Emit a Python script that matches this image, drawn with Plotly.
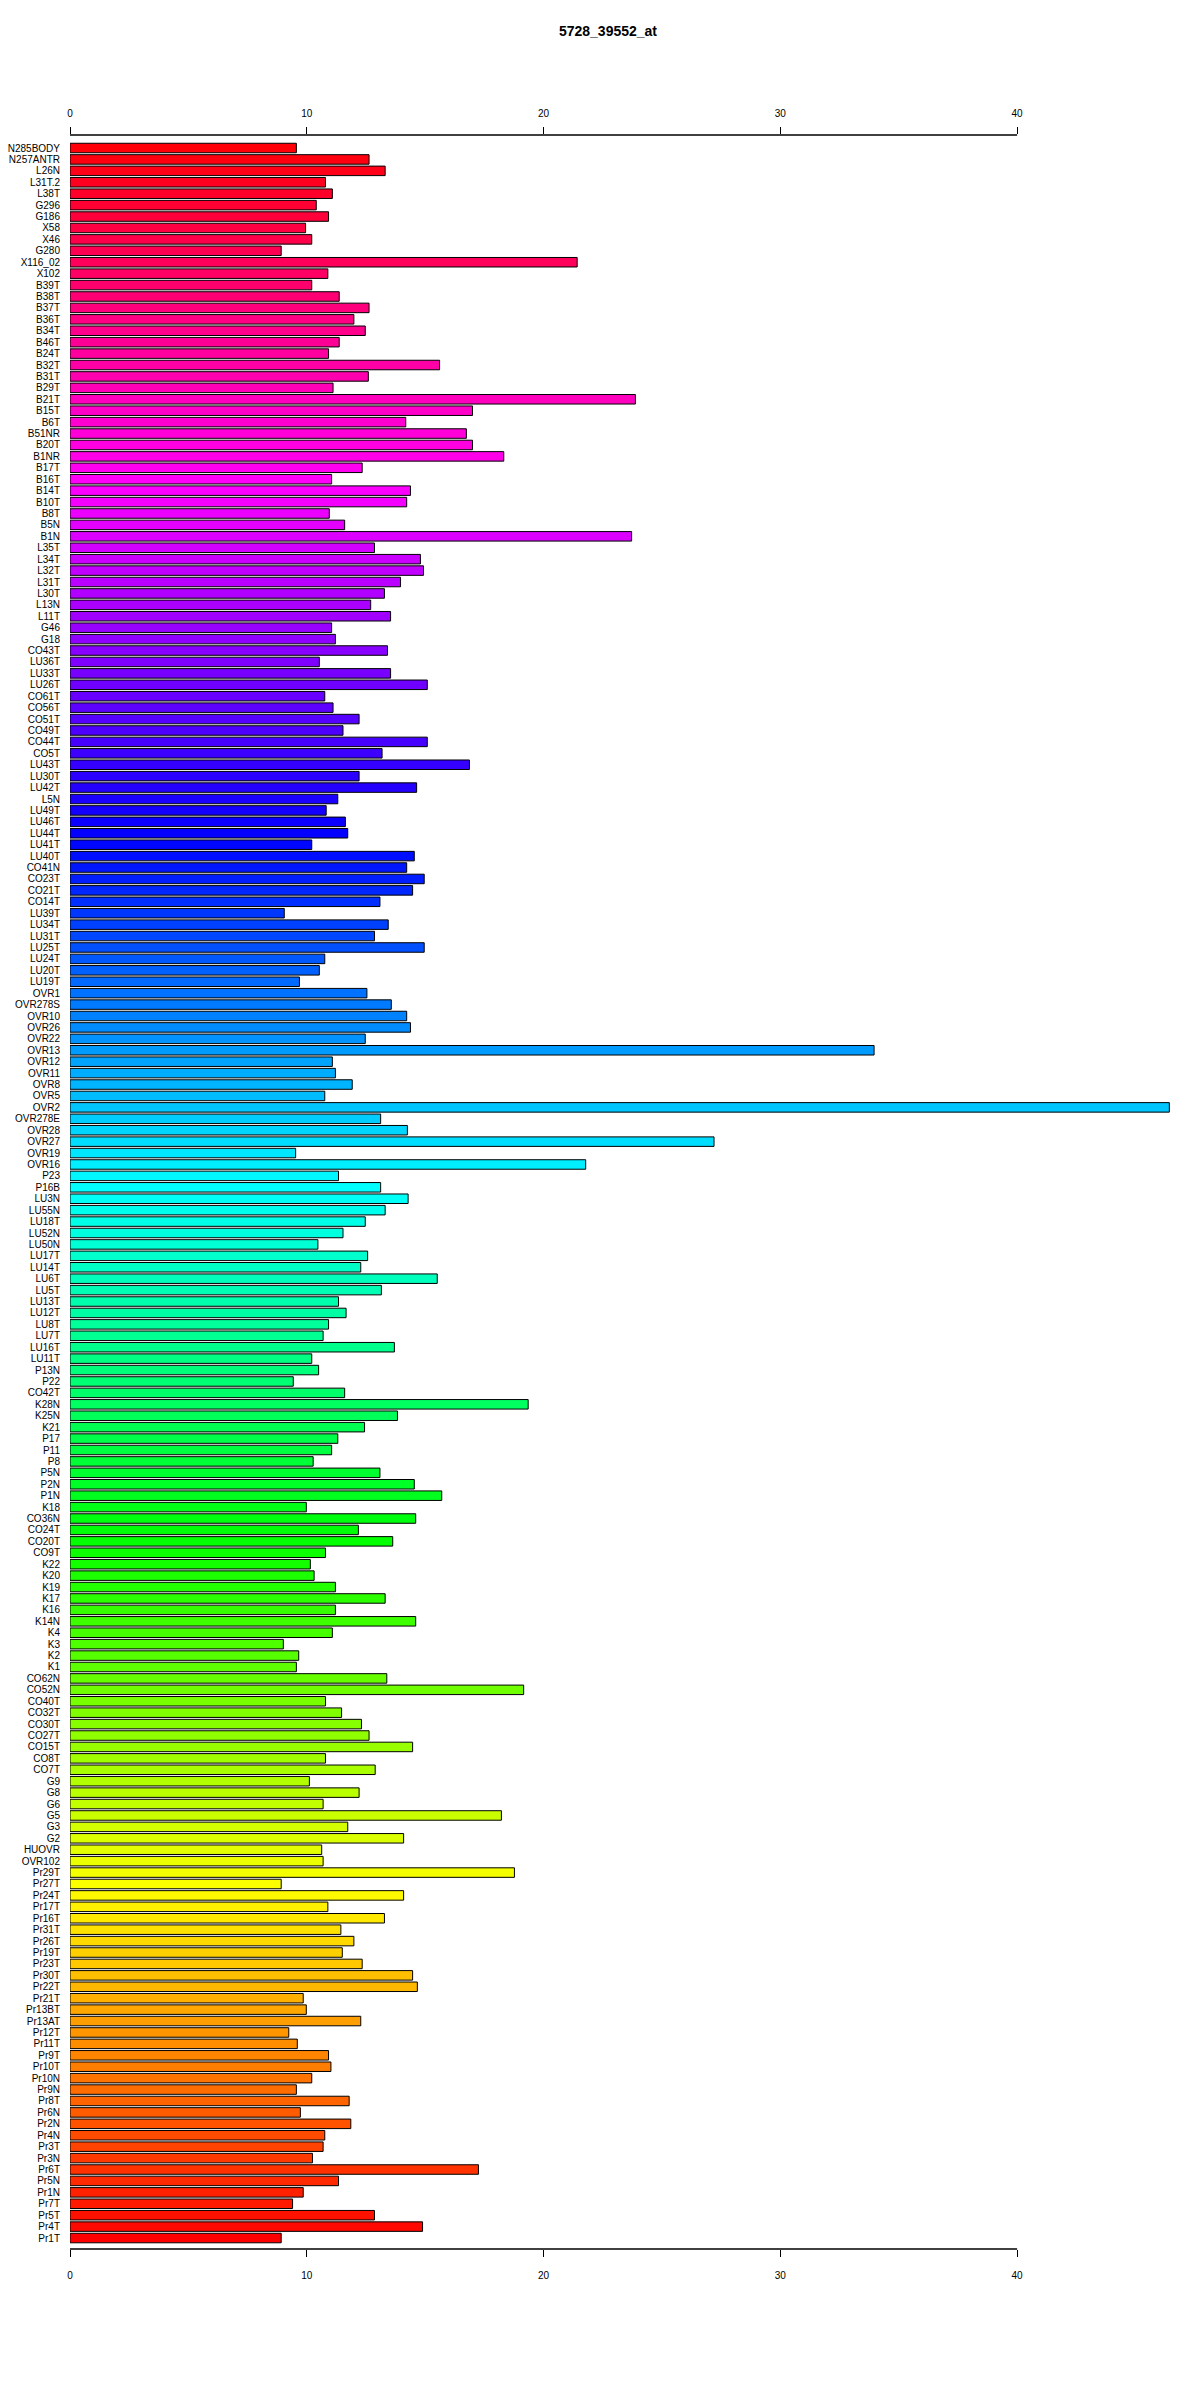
import colorsys
import plotly.graph_objects as go

title = "5728_39552_at"

labels = [
    "N285BODY", "N257ANTR", "L26N", "L31T.2", "L38T", "G296", "G186", "X58", "X46", "G280",
    "X116_02", "X102", "B39T", "B38T", "B37T", "B36T", "B34T", "B46T", "B24T", "B32T",
    "B31T", "B29T", "B21T", "B15T", "B6T", "B51NR", "B20T", "B1NR", "B17T", "B16T",
    "B14T", "B10T", "B8T", "B5N", "B1N", "L35T", "L34T", "L32T", "L31T", "L30T",
    "L13N", "L11T", "G46", "G18", "CO43T", "LU36T", "LU33T", "LU26T", "CO61T", "CO56T",
    "CO51T", "CO49T", "CO44T", "CO5T", "LU43T", "LU30T", "LU42T", "L5N", "LU49T", "LU46T",
    "LU44T", "LU41T", "LU40T", "CO41N", "CO23T", "CO21T", "CO14T", "LU39T", "LU34T", "LU31T",
    "LU25T", "LU24T", "LU20T", "LU19T", "OVR1", "OVR278S", "OVR10", "OVR26", "OVR22", "OVR13",
    "OVR12", "OVR11", "OVR8", "OVR5", "OVR2", "OVR278E", "OVR28", "OVR27", "OVR19", "OVR16",
    "P23", "P16B", "LU3N", "LU55N", "LU18T", "LU52N", "LU50N", "LU17T", "LU14T", "LU6T",
    "LU5T", "LU13T", "LU12T", "LU8T", "LU7T", "LU16T", "LU11T", "P13N", "P22", "CO42T",
    "K28N", "K25N", "K21", "P17", "P11", "P8", "P5N", "P2N", "P1N", "K18",
    "CO36N", "CO24T", "CO20T", "CO9T", "K22", "K20", "K19", "K17", "K16", "K14N",
    "K4", "K3", "K2", "K1", "CO62N", "CO52N", "CO40T", "CO32T", "CO30T", "CO27T",
    "CO15T", "CO8T", "CO7T", "G9", "G8", "G6", "G5", "G3", "G2", "HUOVR",
    "OVR102", "Pr29T", "Pr27T", "Pr24T", "Pr17T", "Pr16T", "Pr31T", "Pr26T", "Pr19T", "Pr23T",
    "Pr30T", "Pr22T", "Pr21T", "Pr13BT", "Pr13AT", "Pr12T", "Pr11T", "Pr9T", "Pr10T", "Pr10N",
    "Pr9N", "Pr8T", "Pr6N", "Pr2N", "Pr4N", "Pr3T", "Pr3N", "Pr6T", "Pr5N", "Pr1N",
    "Pr7T", "Pr5T", "Pr4T", "Pr1T",
]

values = [
    9.56, 12.63, 13.31, 10.79, 11.08, 10.40, 10.92, 9.95, 10.21, 8.92,
    21.42, 10.89, 10.21, 11.37, 12.63, 11.99, 12.47, 11.37, 10.92, 15.61,
    12.60, 11.11, 23.88, 17.00, 14.18, 16.74, 17.00, 18.32, 12.34, 11.05,
    14.38, 14.22, 10.95, 11.60, 23.72, 12.86, 14.80, 14.93, 13.96, 13.28,
    12.70, 13.54, 11.05, 11.21, 13.41, 10.53, 13.54, 15.09, 10.76, 11.11,
    12.21, 11.53, 15.09, 13.18, 16.87, 12.21, 14.64, 11.31, 10.82, 11.63,
    11.73, 10.21, 14.54, 14.22, 14.96, 14.47, 13.09, 9.05, 13.44, 12.86,
    14.96, 10.76, 10.53, 9.69, 12.54, 13.57, 14.22, 14.38, 12.47, 33.96,
    11.08, 11.21, 11.92, 10.76, 46.43, 13.12, 14.25, 27.20, 9.53, 21.78,
    11.34, 13.12, 14.28, 13.31, 12.47, 11.53, 10.47, 12.57, 12.28, 15.51,
    13.15, 11.34, 11.66, 10.92, 10.69, 13.70, 10.21, 10.50, 9.43, 11.60,
    19.35, 13.83, 12.44, 11.31, 11.05, 10.27, 13.09, 14.54, 15.70, 9.98,
    14.60, 12.18, 13.63, 10.79, 10.15, 10.31, 11.21, 13.31, 11.21, 14.60,
    11.08, 9.01, 9.66, 9.56, 13.38, 19.16, 10.79, 11.47, 12.31, 12.63,
    14.47, 10.79, 12.89, 10.11, 12.21, 10.69, 18.22, 11.73, 14.09, 10.63,
    10.69, 18.77, 8.92, 14.09, 10.89, 13.28, 11.44, 11.99, 11.50, 12.34,
    14.47, 14.67, 9.85, 9.98, 12.28, 9.24, 9.60, 10.92, 11.02, 10.21,
    9.56, 11.79, 9.73, 11.86, 10.76, 10.69, 10.24, 17.25, 11.34, 9.85,
    9.40, 12.86, 14.89, 8.92,
]

tick_vals = [0, 10, 20, 30, 40]

n = len(labels)
# R rainbow(n): first colour (red) at the bottom bar, hue increasing upwards
colors = []
for i in range(n):
    j = n - 1 - i
    r, g, b = colorsys.hsv_to_rgb(j / n, 1.0, 1.0)
    colors.append(f"rgb({round(r*255)},{round(g*255)},{round(b*255)})")

font_family = "Liberation Sans, Arial, sans-serif"

fig = go.Figure()
fig.add_trace(go.Bar(
    x=values, y=labels, orientation="h",
    marker=dict(color=colors, line=dict(color="black", width=1)),
    showlegend=False, hoverinfo="x+y",
))
# invisible copy bound to the top axis so that it is drawn
fig.add_trace(go.Bar(
    x=values, y=labels, orientation="h", xaxis="x2", yaxis="y",
    marker=dict(color="rgba(0,0,0,0)", line=dict(width=0)),
    showlegend=False, hoverinfo="skip",
))

x_range = [0, 46.5]

fig.update_layout(
    width=1200, height=2400,
    margin=dict(l=62, r=37, t=127, b=159, pad=0),
    paper_bgcolor="white", plot_bgcolor="white",
    bargap=0.167, barmode="overlay",
    font=dict(family=font_family, size=10, color="black"),
    title=dict(text=f"<b>{title}</b>", x=0.5, xanchor="center",
               y=1 - 23 / 2400, yanchor="middle",
               font=dict(size=14, family=font_family, color="black")),
    xaxis=dict(range=x_range, tickvals=tick_vals, ticks="outside", ticklen=7,
               tickwidth=1, tickcolor="black", showgrid=False, zeroline=False,
               showline=False, side="bottom", ticklabelstandoff=10,
               tickfont=dict(size=10), automargin=False),
    xaxis2=dict(range=x_range, tickvals=tick_vals, ticks="outside", ticklen=7,
                tickwidth=1, tickcolor="black", showgrid=False, zeroline=False,
                showline=False, side="top", overlaying="x",
                ticklabelstandoff=6, tickfont=dict(size=10), automargin=False),
    yaxis=dict(type="category", range=[n - 1 + 0.96, -1.14], ticks="",
               tickmode="array", tickvals=labels, ticktext=labels,
               showgrid=False, zeroline=False, showline=False,
               ticklabelstandoff=9, tickfont=dict(size=10), automargin=False),
)

# axis lines spanning only the tick range, like R's axis()
for yp in (0, 1):
    fig.add_shape(type="line", xref="x", yref="paper",
                  x0=tick_vals[0], x1=tick_vals[-1], y0=yp, y1=yp,
                  line=dict(color="black", width=1.5))

fig.write_html("out.html")
